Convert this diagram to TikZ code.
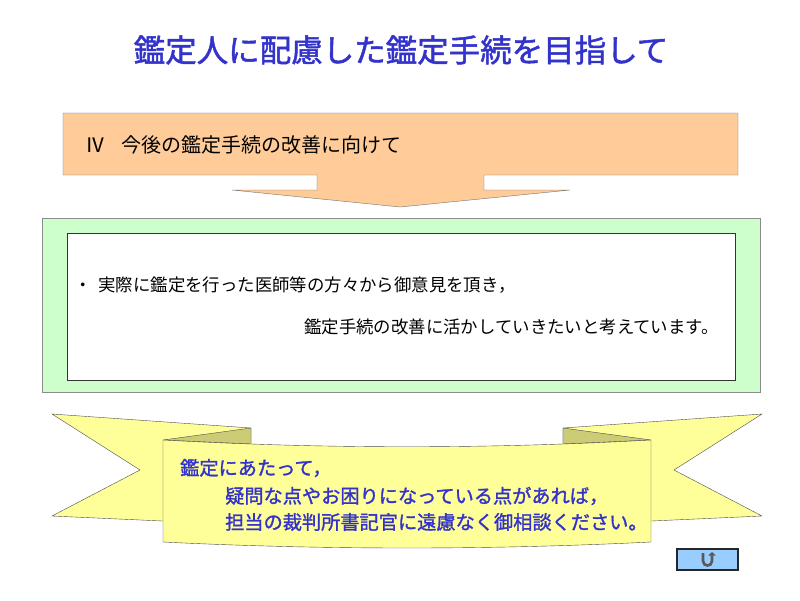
\documentclass[tikz,border=0pt]{standalone}
\usepackage{fontspec}
\newfontfamily\jpfont{Noto Sans CJK JP}
\newfontfamily\jpbold[FakeBold=1.5]{Noto Sans CJK JP}
\definecolor{titleblue}{HTML}{3333CC}
\definecolor{peach}{HTML}{FFCC99}
\definecolor{mint}{HTML}{CCFFCC}
\definecolor{banner}{HTML}{FFFF99}
\definecolor{bannerfold}{HTML}{CCCC77}
\definecolor{btnblue}{HTML}{99CCFF}
\tikzset{
  titletext/.style={font=\jpbold\fontsize{31.5}{31.5}\selectfont, text=titleblue},
  headtext/.style={font=\jpfont\fontsize{20}{20}\selectfont},
  bodytext/.style={font=\jpfont\fontsize{17.4}{17.4}\selectfont},
  bannertext/.style={font=\jpbold\fontsize{19.2}{19.2}\selectfont, text=titleblue}
}
\usetikzlibrary{arrows.meta}
\begin{document}
\begin{tikzpicture}[x=1pt, y=-1pt, every node/.style={inner sep=0pt}]
    \useasboundingbox[fill=white] (0, 0) rectangle (800, 600);

    \node[titletext] (title) at (401, 50) {鑑定人に配慮した鑑定手続を目指して};

    % orange block arrow
    \draw[fill=peach, draw=black!55] (63, 113) -- (738, 113) -- (738, 175) -- (484, 175)
        -- (484, 190) -- (570, 190) -- (400, 207) -- (232, 190) -- (317, 190)
        -- (317, 175) -- (63, 175) -- cycle;
    \node[headtext, anchor=west] (head) at (85, 145) {Ⅳ\hspace{0.8em}今後の鑑定手続の改善に向けて};

    % green frame with white box
    \draw[fill=mint, draw=black!45] (42, 218) rectangle (760, 392);
    \draw[fill=white, draw=black!80] (67, 233) rectangle (735, 380);
    \node[bodytext, anchor=west] (line1) at (74, 285) {・\hspace{0.4em}実際に鑑定を行った医師等の方々から御意見を頂き，};
    \node[bodytext, anchor=east] (line2) at (719, 327) {鑑定手続の改善に活かしていきたいと考えています。};

    % ribbon: tails, folds, front panel
    \draw[fill=banner, draw=black!70] (52, 414) -- (251, 428) -- (251, 525) -- (52, 516) -- (140, 470) -- cycle;
    \draw[fill=banner, draw=black!70] (762, 414) -- (563, 428) -- (563, 525) -- (762, 516) -- (674, 470) -- cycle;
    \draw[fill=bannerfold, draw=black!70] (163, 440) -- (251, 428) -- (251, 444) -- cycle;
    \draw[fill=bannerfold, draw=black!70] (651, 440) -- (563, 428) -- (563, 444) -- cycle;
    \draw[fill=banner, draw=black!70] (163, 440) .. controls (325, 449) and (489, 449) .. (651, 440)
        -- (651, 542) .. controls (489, 550) and (325, 550) .. (163, 542) -- cycle;
    \node[bannertext, anchor=west] (ask1) at (180, 468) {鑑定にあたって，};
    \node[bannertext, anchor=west] (ask2) at (225, 496) {疑問な点やお困りになっている点があれば，};
    \node[bannertext, anchor=west] (ask3) at (225, 522) {担当の裁判所書記官に遠慮なく御相談ください。};

    % return button
    \draw[fill=btnblue, draw=black!85, line width=1.2pt] (677, 549) rectangle (738, 570);
    \draw[line width=2.6pt, black!65, -{Triangle[length=3.5pt, width=7pt]}]
        (703, 553) -- (703, 561) .. controls (703, 567) and (712, 567) .. (712, 561) -- (712, 552);
\end{tikzpicture}
\end{document}
